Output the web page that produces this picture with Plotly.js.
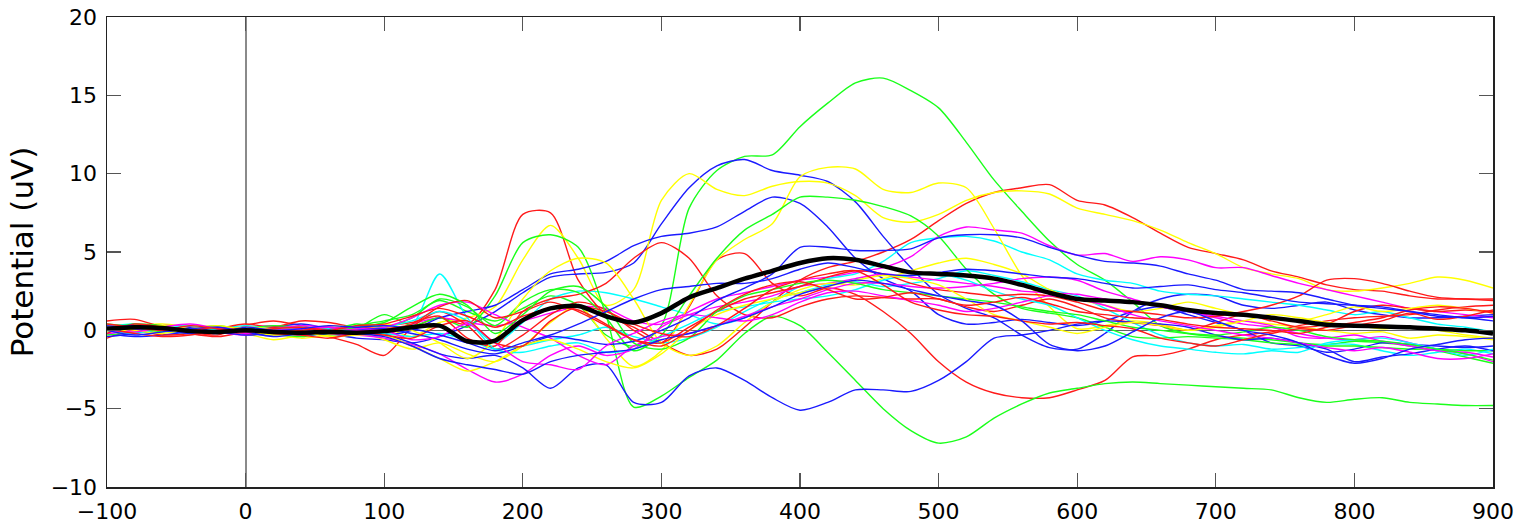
<!DOCTYPE html>
<html><head><meta charset="utf-8">
<script src="https://cdn.plot.ly/plotly-3.0.1.min.js"></script>
<style>html,body{margin:0;padding:0;background:#fff}#chart{width:1524px;height:525px}</style>
</head><body><div id="chart"></div><script>
const timeMs = [-100,-80,-60,-40,-20,0,20,40,60,80,100,120,140,160,180,200,220,240,260,280,300,320,340,360,380,400,420,440,460,480,500,520,540,560,580,600,620,640,660,680,700,720,740,760,780,800,820,840,860,880,900];
const xTicks = [-100,0,100,200,300,400,500,600,700,800,900];
const yTicks = [-10,-5,0,5,10,15,20];

const chG1 = [0.2,0.3,0.1,-0.1,0.0,0.2,0.1,-0.2,-0.1,0.3, 0.6,1.0,1.9,1.2,0.6,1.4,2.2,1.6,-0.3,-1.0, 0.3,7.8,10.2,11.1,11.2,13.0,14.5,15.8,16.1,15.3, 14.2,12.0,9.6,7.6,5.7,4.2,3.2,1.8,0.3,-0.2, -0.4,-0.5,-0.6,-0.8,-0.9,-0.7,-0.8,-1.0,-1.3,-1.7, -2.1];
const chG2 = [-0.3,-0.1,0.2,0.3,0.1,-0.2,0.0,0.2,-0.3,0.1, 1.0,0.3,0.8,0.2,2.2,5.6,6.1,5.3,1.0,-4.9, -4.2,-3.0,-1.9,-0.2,0.9,0.3,-1.4,-3.2,-5.0,-6.4, -7.2,-6.8,-5.6,-4.7,-4.0,-3.7,-3.4,-3.3,-3.4,-3.5, -3.6,-3.7,-3.8,-4.3,-4.6,-4.4,-4.3,-4.6,-4.7,-4.8, -4.8];
const chG3 = [0.1,0.4,0.3,0.0,-0.2,0.1,0.3,0.2,0.0,0.4, 0.2,0.8,2.0,1.5,0.3,1.8,2.6,2.4,0.8,-1.3, -0.3,2.2,4.6,6.4,7.4,8.5,8.5,8.3,7.9,7.3, 6.0,3.9,2.3,1.4,1.1,0.8,0.2,-0.4,-0.5,-0.4, -0.5,-0.6,-0.8,-0.9,-1.0,-1.0,-1.1,-1.2,-1.2,-1.3, -1.3];
const chG4 = [0.4,0.2,-0.1,0.1,0.3,0.0,-0.2,-0.4,-0.1,0.2, 0.5,1.5,2.3,1.6,-0.2,1.0,2.5,2.8,1.5,-0.8, -1.2,-0.5,1.2,2.2,2.6,3.0,3.2,3.0,2.6,2.4, 2.2,2.0,1.8,1.5,1.2,1.0,0.6,0.2,0.0,-0.2, -0.3,-0.1,0.2,0.0,-0.4,-0.6,-0.7,-0.9,-1.2,-1.5, -1.9];
const chB1 = [-0.2,-0.4,-0.3,-0.1,0.0,-0.2,-0.3,-0.1,-0.2,-0.5, -0.6,-0.8,-0.4,0.3,1.2,2.4,3.4,3.6,3.7,4.3, 6.8,9.1,10.5,10.9,10.2,9.9,9.5,8.2,6.0,4.0, 2.3,1.4,0.8,-0.3,-1.1,-1.2,-0.2,1.2,2.0,2.3, 2.2,1.6,1.4,1.6,1.8,1.3,1.0,0.8,0.8,0.9, 1.0];
const chB2 = [0.1,0.0,0.2,0.1,-0.1,0.0,0.2,0.4,0.1,-0.2, -0.3,0.0,0.8,1.2,1.6,2.6,3.6,3.9,4.4,5.4, 6.0,6.2,6.6,7.6,8.5,8.1,6.6,4.6,3.3,2.5, 1.0,0.4,0.5,0.7,0.5,0.3,0.6,1.2,1.5,1.0, 0.5,0.0,-0.8,-1.0,-1.4,-1.2,-0.8,-0.9,-1.0,-1.1, -1.0];
const chB3 = [-0.4,-0.2,0.1,0.2,-0.1,-0.3,-0.2,0.0,0.1,-0.1, -0.3,-0.8,-1.5,-1.8,-1.6,-2.4,-3.7,-2.4,-2.2,-4.6, -4.6,-2.9,-2.4,-3.2,-4.3,-5.1,-4.6,-3.8,-3.8,-3.9, -3.2,-2.0,-0.5,-0.3,0.0,0.4,0.6,0.5,0.4,0.2, -0.3,-0.6,-0.5,-0.8,-1.2,-2.0,-1.7,-1.5,-1.2,-1.0, -1.3];
const chB4 = [0.2,0.3,0.0,-0.2,-0.1,0.1,-0.1,-0.3,-0.2,0.0, 0.1,-0.2,-0.6,-1.2,-1.5,-1.0,-0.4,-0.6,-0.9,-0.7, 0.0,0.8,1.9,2.7,3.6,5.3,5.3,5.1,5.1,5.2, 5.9,6.1,6.1,5.9,5.3,4.8,4.4,4.3,4.1,3.6, 3.2,2.6,2.5,2.4,2.0,1.6,1.4,1.2,1.0,0.8, 0.9];
const chB5 = [0.0,-0.3,-0.1,0.1,0.2,-0.1,-0.4,-0.2,0.0,-0.2, -0.4,-1.0,-1.8,-2.2,-2.5,-2.8,-2.0,-1.6,-1.4,-1.2, -0.6,-0.2,0.3,0.8,1.5,2.3,2.8,3.2,3.0,2.6, 2.2,1.9,1.6,0.6,-0.9,-1.3,-1.0,-0.1,0.8,1.2, 0.6,0.0,-0.3,-0.8,-1.6,-2.1,-1.8,-1.2,-0.9,-0.6, -0.5];
const chB6 = [0.3,0.1,0.2,0.0,-0.2,0.2,0.0,0.1,0.3,0.2, 0.3,0.1,-0.3,-0.8,-1.3,-0.8,-0.3,0.4,1.2,2.0, 2.6,2.8,3.0,3.0,3.3,3.9,4.3,4.0,3.6,3.5, 3.7,3.9,3.8,3.6,3.4,3.3,3.0,2.7,2.8,2.9, 2.6,2.4,2.1,1.8,1.7,1.6,1.5,1.2,0.9,0.8, 0.6];
const chR1 = [-0.5,0.1,0.3,-0.1,-0.3,0.3,0.6,0.3,0.0,0.1, -0.2,0.2,0.8,0.4,2.6,7.4,7.5,3.2,1.0,0.2, -0.8,-1.6,-1.2,0.2,1.8,3.2,4.0,4.4,5.0,5.8, 7.0,8.1,8.8,9.1,9.3,8.3,8.0,7.2,6.2,5.3, 4.9,4.5,3.8,3.4,2.9,2.6,2.5,2.2,2.0,2.0, 1.9];
const chR2 = [0.6,0.7,0.2,-0.2,-0.4,-0.1,0.2,0.1,-0.4,-0.9, -1.6,0.2,1.2,0.3,-1.2,-0.3,1.0,1.8,1.3,0.0, -0.8,1.5,4.5,4.9,3.0,2.2,2.7,2.3,1.2,-0.2, -2.0,-3.3,-4.0,-4.3,-4.3,-3.8,-3.2,-1.7,-1.6,-1.2, -0.6,-0.3,-0.1,0.3,0.6,0.8,0.9,1.0,1.3,1.5, 1.6];
const chR3 = [0.3,0.0,-0.3,-0.2,0.1,0.4,0.2,0.6,0.5,0.2, 0.3,0.5,0.9,-0.5,-1.0,1.2,2.0,2.3,3.0,4.6, 5.6,4.6,2.2,1.0,0.8,1.5,2.0,2.2,2.1,2.0, 2.0,1.5,1.2,1.6,2.0,1.5,0.8,0.5,0.3,0.0, 0.5,1.0,0.6,0.2,0.4,1.2,1.6,1.4,1.2,1.3, 1.2];
const chR4 = [-0.2,0.4,0.2,0.0,0.2,-0.2,-0.1,0.0,0.2,0.0, 0.1,0.4,1.5,1.9,0.8,1.2,1.8,1.2,0.3,-0.6, -0.8,0.2,1.2,2.0,2.4,2.8,3.4,3.8,3.6,3.0, 2.6,2.4,2.2,2.3,2.2,1.8,1.3,1.2,1.0,0.8, 0.9,1.2,1.6,2.2,3.2,3.3,3.0,2.5,2.1,2.0, 2.0];
const chR5 = [0.1,-0.2,-0.4,-0.3,0.0,0.1,-0.2,-0.3,-0.5,-0.2, -0.3,-0.5,0.3,0.6,-0.8,-1.0,0.6,1.5,1.2,0.4, -0.2,-0.4,0.3,1.4,2.6,3.2,3.6,3.8,2.9,1.8, 1.3,1.0,0.9,0.6,0.4,0.5,0.3,0.1,-0.5,-0.8, -1.0,-0.6,-0.2,0.1,0.0,0.3,0.6,1.1,0.7,0.9, 1.3];
const chR6 = [0.4,0.2,0.0,0.3,0.1,-0.1,0.1,0.2,0.0,0.3, 0.4,0.9,1.4,0.9,0.2,0.9,1.4,1.3,0.4,-0.6, -1.0,0.0,1.3,2.3,2.9,3.1,2.6,2.0,2.1,2.4, 2.0,1.6,1.8,2.1,1.7,1.2,1.0,0.8,0.7,0.4, 0.2,0.1,0.0,-0.2,0.2,0.5,0.8,1.3,1.5,1.4, 1.1];
const chY1 = [0.0,0.3,0.4,0.2,0.0,-0.2,-0.6,-0.3,0.0,0.1, 0.2,-0.4,0.5,0.8,1.5,4.5,6.7,4.6,1.6,2.6, 8.3,10.0,9.0,8.6,9.2,9.5,9.4,8.6,7.2,6.9, 7.4,8.3,8.8,8.9,8.7,7.8,7.4,7.0,6.4,5.6, 4.9,4.0,3.6,3.3,2.6,2.5,2.7,3.0,3.4,3.2, 2.7];
const chY2 = [0.2,-0.1,0.0,0.3,0.2,0.1,-0.2,-0.5,-0.3,-0.1, -0.6,-1.2,-0.8,-1.5,-2.0,-1.0,0.5,1.6,-0.5,-2.3, -1.3,1.6,4.5,5.8,6.8,9.8,10.4,10.3,9.0,8.8, 9.4,9.1,6.5,3.5,1.5,0.1,0.3,0.6,0.4,0.0, 0.3,0.6,0.4,0.2,0.0,-0.2,-0.1,-0.5,-0.3,-0.4, -0.6];
const chY3 = [-0.1,0.2,0.3,0.1,-0.1,0.2,0.1,0.0,0.3,0.2, 0.4,0.0,-0.8,-1.8,-0.6,2.0,3.8,4.6,4.3,2.0, -0.8,-1.6,-1.0,0.5,1.8,2.6,3.0,2.9,3.3,3.8, 4.3,4.6,4.2,3.6,2.6,2.0,1.6,1.2,1.4,1.8, 1.4,1.0,0.8,0.6,1.0,1.5,1.2,1.4,1.6,1.4, 1.1];
const chY4 = [0.3,0.0,-0.2,0.1,0.3,0.0,-0.3,-0.1,-0.4,-0.3, -0.3,-1.0,-1.8,-2.6,-2.0,-1.0,-0.6,-1.2,-2.0,-2.4, -1.5,0.0,1.0,1.6,2.0,2.4,2.8,3.2,3.5,3.3, 2.9,2.0,1.0,0.6,0.2,-0.2,0.2,0.5,0.3,0.0, 0.2,0.6,1.0,0.8,0.5,0.3,0.1,0.2,0.0,-0.3, -0.5];
const chC1 = [-0.1,0.1,0.3,0.2,-0.1,0.0,0.2,0.1,-0.1,0.0, 0.1,0.3,3.6,0.8,-0.8,0.5,2.0,2.5,2.4,2.0, 1.5,1.0,0.4,0.8,1.8,2.8,3.3,3.6,4.4,5.6, 5.9,6.0,5.7,5.0,4.5,3.6,3.2,3.0,2.5,2.3, 2.2,2.0,1.8,1.6,1.3,1.0,1.2,0.8,0.4,0.2, -0.1];
const chC2 = [0.2,0.4,0.0,-0.2,0.1,0.3,0.1,-0.2,0.0,-0.1, -0.2,-0.4,-0.2,-0.6,-1.2,-1.0,-0.6,-0.3,0.2,-0.4, -0.8,-0.5,0.2,1.2,2.0,2.4,2.9,3.1,2.8,3.0, 3.3,3.8,3.5,3.1,2.6,2.2,1.4,0.5,-0.3,-0.8, -1.0,-0.9,-1.2,-1.1,-0.9,-0.9,-1.3,-1.6,-1.4,-1.2, -1.5];
const chC3 = [0.0,-0.2,0.1,0.3,0.0,-0.1,0.0,0.2,0.1,0.0, 0.2,0.6,1.2,0.6,-1.2,-1.4,-1.0,-0.8,-1.4,-1.2, -0.4,0.4,1.2,1.5,1.8,2.0,2.2,2.6,3.2,3.5, 3.6,3.2,2.5,2.0,1.6,0.8,0.0,-0.6,-1.0,-1.2, -1.4,-1.5,-1.3,-1.4,-0.8,-0.6,-0.5,-0.8,-1.2,-1.6, -1.2];
const chM1 = [0.1,0.3,0.2,-0.1,0.0,0.2,0.3,0.1,-0.1,0.0, -0.2,0.4,0.8,0.5,0.3,0.6,1.1,1.5,1.4,0.6, 0.4,1.2,2.0,2.4,2.8,3.2,3.4,3.7,4.0,4.7, 6.0,6.6,6.4,6.2,5.4,4.8,4.9,4.4,4.7,4.5, 4.0,4.0,3.5,3.0,2.6,2.2,1.8,1.4,1.2,1.0, 0.8];
const chM2 = [-0.2,0.0,0.3,0.2,-0.1,-0.3,-0.1,0.0,-0.2,-0.3, -0.5,-0.9,-1.5,-2.5,-3.3,-2.8,-1.6,-1.0,-1.6,-1.2, 0.2,1.0,1.5,1.8,2.2,2.8,3.0,3.3,3.6,3.4, 3.2,3.0,2.8,2.5,2.4,2.3,2.0,1.8,1.6,1.2, 0.8,0.4,0.2,-0.2,-0.5,-0.6,-0.4,-0.8,-1.2,-1.5, -2.0];
const chM3 = [0.3,0.2,0.0,0.1,0.2,0.0,0.1,0.3,0.2,0.1, 0.2,0.8,1.6,1.8,1.0,0.2,-0.5,-1.6,-2.2,-1.0, -0.4,-0.2,0.3,0.9,1.5,2.0,2.6,3.0,3.0,2.8, 2.7,2.8,3.0,3.3,3.4,3.2,2.5,2.0,1.5,1.2, 0.9,0.6,0.3,-0.4,-0.5,-0.3,-0.7,-1.0,-1.3,-1.4, -1.7];
const chM4 = [0.0,-0.1,0.2,0.4,0.1,-0.2,0.0,0.1,0.2,0.0, 0.0,-0.6,-0.4,0.4,-0.8,-2.0,-2.2,-2.5,-1.0,-0.2, 0.6,1.0,0.8,0.6,1.0,1.8,2.4,2.5,2.2,1.9, 1.6,1.2,1.4,1.8,2.2,2.0,1.6,1.0,0.6,0.3, 0.0,-0.3,-0.5,-0.8,-1.1,-1.3,-1.1,-1.4,-1.8,-1.8, -1.5];
const meanERP = [0.1,0.2,0.15,-0.05,-0.1,0.0,-0.1,-0.15,-0.1,-0.15, -0.05,0.2,0.3,-0.7,-0.65,0.65,1.4,1.55,0.9,0.5, 1.1,2.1,2.7,3.3,3.8,4.3,4.6,4.5,4.1,3.7, 3.6,3.5,3.3,2.9,2.4,2.0,1.9,1.8,1.6,1.3, 1.1,1.0,0.8,0.6,0.35,0.3,0.25,0.2,0.1,0.0, -0.2];

const RED='#ff1a1a', GREEN='#1aff1a', BLUE='#1a1aff', YELLOW='#ffff00', CYAN='#00ffff', MAGENTA='#ff00ff';
const channels = [
  [chR1,RED],[chG1,GREEN],[chB1,BLUE],[chY1,YELLOW],[chC1,CYAN],[chM1,MAGENTA],
  [chR2,RED],[chG2,GREEN],[chB2,BLUE],[chY2,YELLOW],[chC2,CYAN],[chM2,MAGENTA],
  [chR3,RED],[chG3,GREEN],[chB3,BLUE],[chY3,YELLOW],[chC3,CYAN],[chM3,MAGENTA],
  [chR4,RED],[chG4,GREEN],[chB4,BLUE],[chY4,YELLOW],[chM4,MAGENTA],
  [chR5,RED],[chB5,BLUE],[chR6,RED],[chB6,BLUE]
];
const traces = channels.map(([vals,col]) => ({
  x: timeMs, y: vals, type:'scatter', mode:'lines', hoverinfo:'skip', showlegend:false,
  line:{color:col, width:1.4, shape:'spline', smoothing:0.8}
}));
traces.push({x: timeMs, y: meanERP, type:'scatter', mode:'lines', hoverinfo:'skip', showlegend:false,
  line:{color:'#000000', width:4.5, shape:'spline', smoothing:0.8}});

const axisCommon = {
  ticks:'inside', ticklen:14, tickwidth:1.3, tickcolor:'#555',
  showline:true, linecolor:'#222', linewidth:1.5, mirror:'ticks',
  showgrid:false, tickfont:{family:'DejaVu Sans, sans-serif', size:22, color:'#000'}
};
const layout = {
  width:1524, height:525,
  margin:{l:107, r:31, t:17, b:38},
  paper_bgcolor:'#ffffff', plot_bgcolor:'#ffffff',
  font:{family:'DejaVu Sans, sans-serif', color:'#000'},
  xaxis: Object.assign({}, axisCommon, {
    range:[-100,900], tickmode:'array', tickvals:xTicks,
    zeroline:true, zerolinecolor:'#8a8a8a', zerolinewidth:2,
    ticklabelstandoff:4
  }),
  yaxis: Object.assign({}, axisCommon, {
    range:[-10,20], tickmode:'array', tickvals:yTicks,
    zeroline:true, zerolinecolor:'#666', zerolinewidth:1,
    ticklabelstandoff:4,
    title:{text:'Potential (uV)', font:{family:'DejaVu Sans, sans-serif', size:31, color:'#000'}, standoff:8}
  })
};
Plotly.newPlot('chart', traces, layout, {displayModeBar:false, staticPlot:true});
</script></body></html>
